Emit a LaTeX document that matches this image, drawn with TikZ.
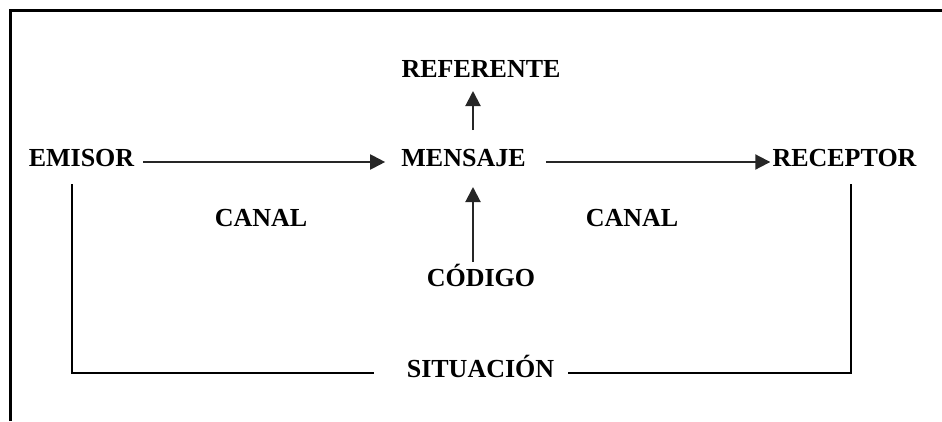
\documentclass[tikz,border=0pt]{standalone}
\usepackage{fontspec}
\setmainfont{Liberation Serif}
\usetikzlibrary{arrows.meta}

\tikzset{
  word/.style={font=\fontsize{26}{30}\selectfont\bfseries, inner sep=0pt, anchor=base},
  flow/.style={line width=2pt, black!85, -{Triangle[width=15pt,length=15pt]}},
  frame/.style={line width=3pt},
  context/.style={line width=2.6pt}
}

\begin{document}
\begin{tikzpicture}[x=1pt,y=-1pt]
	\useasboundingbox (0,0) rectangle (942,421);
	\draw[frame] (10,421) -- (10,10) -- (942,10);
	% words
	\node[word] (emisor) at (81.5,166) {EMISOR};
	\node[word] (mensaje) at (463.5,166) {MENSAJE};
	\node[word] (receptor) at (844.5,166) {RECEPTOR};
	\node[word] (referente) at (481,77) {REFERENTE};
	\node[word] (codigo) at (481,286) {CÓDIGO};
	\node[word] (canalA) at (261,226) {CANAL};
	\node[word] (canalB) at (632,226) {CANAL};
	\node[word] (situacion) at (480.5,377) {SITUACIÓN};
	% arrows
	\draw[flow] ([xshift=9pt,yshift=4pt]emisor.base east) -- ([xshift=-16pt,yshift=4pt]mensaje.base west);
	\draw[flow] ([xshift=20pt,yshift=4pt]mensaje.base east) -- ([xshift=-2pt,yshift=4pt]receptor.base west);
	\draw[flow] ([xshift=9.5pt,yshift=36pt]mensaje.base) -- ([xshift=-8pt,yshift=-14pt]referente.base);
	\draw[flow] ([xshift=-8pt,yshift=24pt]codigo.base) -- ([xshift=9.5pt,yshift=-21pt]mensaje.base);
	% situation
	\draw[context] ([xshift=-9.5pt,yshift=-18pt]emisor.base) |- ([xshift=-33pt,yshift=4pt]situacion.base west);
	\draw[context] ([xshift=14pt,yshift=4pt]situacion.base east) -| ([xshift=6.5pt,yshift=-18pt]receptor.base);
\end{tikzpicture}
\end{document}
